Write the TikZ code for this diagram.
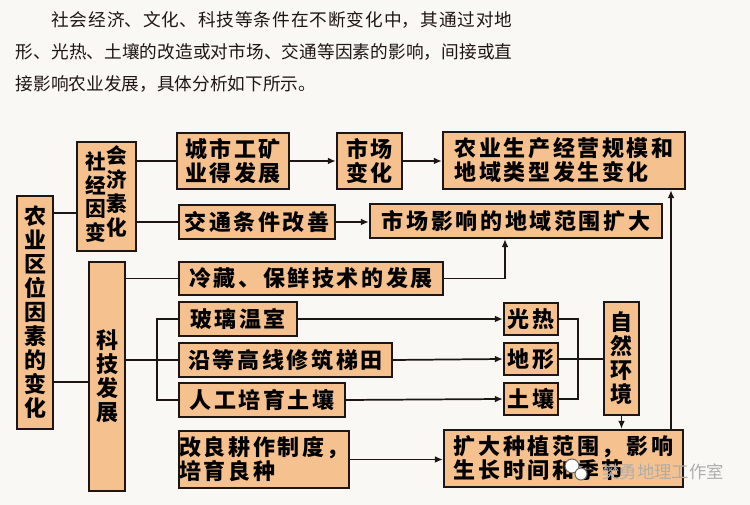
\documentclass[tikz,border=0pt]{standalone}
\usepackage{fontspec}
\usepackage{xcolor}
\usetikzlibrary{arrows.meta}
\newfontfamily\parafont{Noto Sans CJK SC}
\newfontfamily\boxfont{Noto Sans CJK SC}[LetterSpace=12]
\XeTeXlinebreaklocale "zh"
\XeTeXlinebreakskip=0pt plus 3pt
\definecolor{Peach}{HTML}{F5C18F}
\definecolor{Ink}{HTML}{1E1614}
\definecolor{Paper}{HTML}{FAF8F5}
\definecolor{Shade}{HTML}{6E6A66}

\begin{document}
\begin{tikzpicture}[x=0.75pt, y=-0.75pt,
        >={Latex[length=6pt,width=5pt]}, line width=1.3pt,
        box/.style={draw=Ink, line width=1.6pt, fill=Peach, inner sep=0pt, align=left,
                    font=\boxfont\bfseries\fontsize{16.5pt}{18pt}\selectfont},
        vbox/.style={box, align=center},
        brandtext/.style={font=\parafont\fontsize{13pt}{13pt}\selectfont, text=white!45!Shade}]
        \fill[Paper] (0,0) rectangle (750,505);
        \useasboundingbox (0,0) rectangle (750,505);
        \node[anchor=north west, inner sep=0pt, text width=372.5pt, align=justify, text=Ink,
              font=\parafont\fontsize{13.25pt}{24pt}\selectfont] (intro) at (15,11)
              {\hspace*{2em}社会经济、文化、科技等条件在不断变化中，其通过对地\linebreak
               形、光热、土壤的改造或对市场、交通等因素的影响，间接或直\linebreak
               接影响农业发展，具体分析如下所示。};
        % left column
        \node[vbox, minimum width=27pt, minimum height=174.75pt] (farm) at (35,312.5) {农\\业\\区\\位\\因\\素\\的\\变\\化};
        \node[box, minimum width=44.25pt, minimum height=81.75pt] (social) at (106.5,196.5)
              {\fontsize{15.5pt}{15.5pt}\selectfont\raisebox{-4pt}{\begin{tabular}{@{}c@{}}社\\经\\因\\变\end{tabular}}\begin{tabular}{@{}c@{}}会\\济\\素\\化\end{tabular}};
        \node[vbox, minimum width=27pt, minimum height=171.75pt] (tech) at (107,376.5) {科\\技\\发\\展};
        % middle boxes
        \node[box, minimum width=84pt, minimum height=42pt] (city) at (233,161) {城市工矿\\业得发展};
        \node[box, minimum width=48.75pt, minimum height=42pt] (market) at (369.5,161) {市场\\变化};
        \node[box, minimum width=181.5pt, minimum height=42.75pt] (scale) at (564,160.5) {农业生产经营规模和\\地域类型发生变化};
        \node[box, minimum width=117pt, minimum height=25.5pt] (traffic) at (257,222) {交通条件改善};
        \node[box, minimum width=219pt, minimum height=25.5pt] (range) at (516,221) {市场影响的地域范围扩大};
        \node[box, minimum width=198pt, minimum height=24.75pt] (cold) at (311,278.5) {冷藏、保鲜技术的发展};
        \node[box, minimum width=88.5pt, minimum height=25.5pt] (glass) at (238,319) {玻璃温室};
        \node[box, minimum width=159.75pt, minimum height=25.5pt] (terrace) at (285.5,360) {沿等高线修筑梯田};
        \node[box, minimum width=124.5pt, minimum height=25.5pt] (soilmake) at (262,400) {人工培育土壤};
        \node[box, minimum width=127.5pt, minimum height=42.75pt] (farming) at (264,459.5) {改良耕作制度，\\培育良种};
        % natural factors
        \node[box, minimum width=40.5pt, minimum height=24pt] (heat) at (531,319) {光热};
        \node[box, minimum width=40.5pt, minimum height=24pt] (terrain) at (531,359) {地形};
        \node[box, minimum width=40.5pt, minimum height=24pt] (soil) at (531,399) {土壤};
        \node[vbox, minimum width=26.25pt, minimum height=84.75pt] (nature) at (621.5,358.5) {自\\然\\环\\境};
        \node[box, minimum width=179.25pt, minimum height=42.75pt] (expand) at (563.5,458.5) {扩大种植范围，影响\\生长时间和季节};
        \coordinate (fork) at (157,360);
        \coordinate (merge) at (578,359);
        % connectors
        \draw[Ink] (farm.east |- 0,213) -- (social.west |- 0,213);
        \draw[Ink] (farm.east |- 0,382) -- (tech.west |- 0,382);
        \draw[Ink] (social.east |- city) -- (city.west);
        \draw[Ink] (social.east |- traffic) -- (traffic.west);
        \draw[Ink, ->] (city.east) -- (market.west);
        \draw[Ink, ->] (market.east) -- (scale.west |- market);
        \draw[Ink, ->] (traffic.east) -- (range.west |- traffic);
        \draw[Ink] (tech.east |- cold) -- (cold.west);
        \draw[Ink, ->] (cold.east) -| (range.south -| 505,0);
        \draw[Ink] (tech.east |- terrace) -- (terrace.west);
        \draw[Ink] (glass.west) -| (fork) |- (soilmake.west);
        \draw[Ink, ->] (glass.east) -- (heat.west);
        \draw[Ink, ->] (terrace.east) -- (terrain.west);
        \draw[Ink, ->] (soilmake.east) -- (soil.west);
        \draw[Ink] (heat.east) -| (merge) |- (soil.east);
        \draw[Ink] (terrain.east) -- (nature.west |- terrain);
        \draw[Ink, ->] (nature.south) -- (expand.north -| nature.south);
        \draw[Ink, ->] (farming.east) -- (expand.west |- farming);
        \draw[Ink, ->] (expand.north -| 671,0) -- (scale.south -| 671,0);
        % watermark
        \draw[Shade, fill=white, line width=0.8pt] (572,466) circle[radius=7];
        \draw[Shade, fill=white, line width=0.8pt] (581,474) circle[radius=6];
        \node[brandtext] (brand) at (663,472) {樊勇地理工作室};
      \end{tikzpicture}
\end{document}
